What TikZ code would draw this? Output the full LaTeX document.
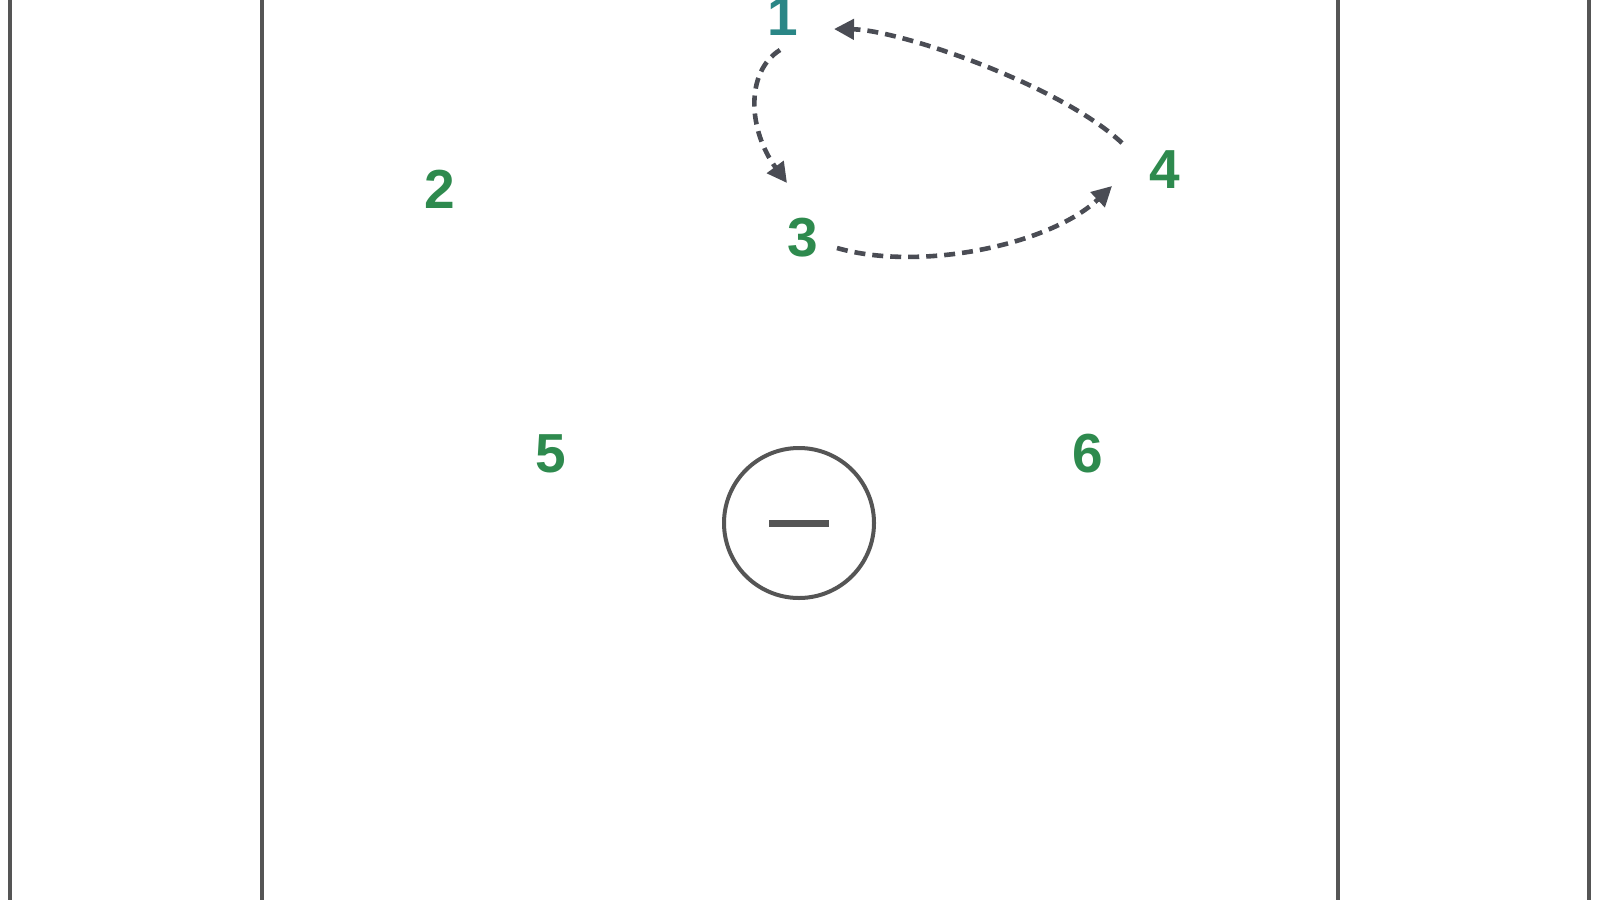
\documentclass[tikz,border=0pt]{standalone}
\usepackage{fontspec}
\setmainfont{Liberation Sans}
\usetikzlibrary{arrows.meta}
\definecolor{courtgray}{HTML}{555555}
\definecolor{rungray}{HTML}{4A4C54}
\definecolor{playergreen}{HTML}{2E8A4E}
\definecolor{playerteal}{HTML}{2A8686}
\tikzset{
  player/.style={inner sep=0pt, text=playergreen, font=\fontsize{27.5}{30}\selectfont\bfseries},
  run/.style={draw=rungray, line width=2.3pt, dash pattern=on 5.5pt off 3.5pt,
    -{Triangle[length=10pt, width=10pt]}},
  courtline/.style={courtgray, line width=2pt}
}

\begin{document}
\begin{tikzpicture}[x=0.5pt, y=-0.5pt]
  \useasboundingbox (0, 0) rectangle (1600, 900);

  % court lines
  \draw[courtline] (10, 0) -- (10, 900);
  \draw[courtline] (262, 0) -- (262, 900);
  \draw[courtline] (1338, 0) -- (1338, 900);
  \draw[courtline] (1589, 0) -- (1589, 900);

  % players
  \node[player, text=playerteal] (p1) at (783, 17) {1};
  \node[player] (p2) at (440, 189) {2};
  \node[player] (p3) at (803, 238) {3};
  \node[player] (p4) at (1165, 170) {4};
  \node[player] (p5) at (551, 454) {5};
  \node[player] (p6) at (1088, 454) {6};

  % ball
  \node[circle, draw=courtgray, line width=2pt, minimum size=75pt, inner sep=0pt] (ball) at (799, 523) {};
  \draw[courtgray, line width=3.5pt] ([shift={(-30, 0)}]ball.center) -- ([shift={(30, 0)}]ball.center);

  % runs
  \draw[run] ([shift={(-3, 33)}]p1.center) .. controls (745, 72) and (748, 130) .. ([shift={(-16, -55)}]p3.center);
  \draw[run] ([shift={(-43, -27)}]p4.center) .. controls (1060, 85) and (900, 30) .. ([shift={(51, 12)}]p1.center);
  \draw[run] ([shift={(34, 10)}]p3.center) .. controls (920, 272) and (1050, 245) .. ([shift={(-53, 16)}]p4.center);
\end{tikzpicture}
\end{document}
